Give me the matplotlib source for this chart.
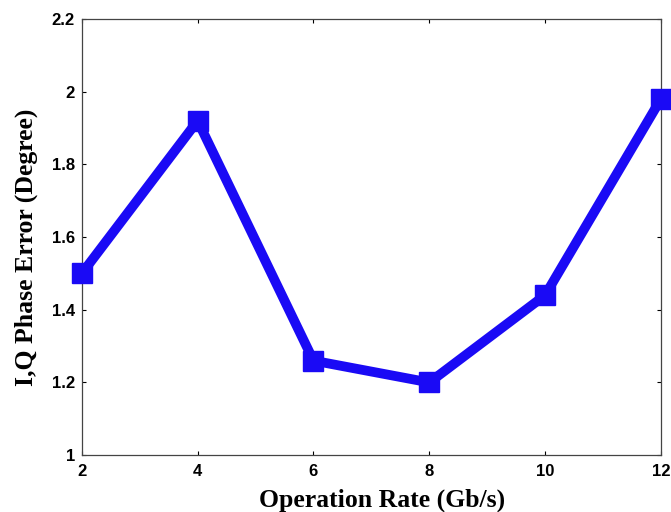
import matplotlib
matplotlib.use('Agg')
import matplotlib.pyplot as plt

# dados
taxa = [2, 4, 6, 8, 10, 12]
erro_fase = [1.50, 1.92, 1.26, 1.20, 1.44, 1.98]

xticks = [2, 4, 6, 8, 10, 12]
yticks = [1, 1.2, 1.4, 1.6, 1.8, 2, 2.2]
ytick_labels = ['1', '1.2', '1.4', '1.6', '1.8', '2', '2.2']

fig = plt.figure(figsize=(6.71, 5.12), dpi=100)
ax = fig.add_axes([0.122, 0.111, 0.863, 0.852])

ax.plot(taxa, erro_fase, color='#1a0af5', linewidth=7, marker='s',
        markersize=14, clip_on=False, zorder=3)

ax.set_xlim(2, 12)
ax.set_ylim(1, 2.2)
ax.set_xticks(xticks)
ax.set_yticks(yticks)
ax.set_yticklabels(ytick_labels)

ax.tick_params(direction='in', length=3, width=0.8, top=True, right=True,
               labelsize=12)
ax.tick_params(axis='x', pad=6)
ax.tick_params(axis='y', pad=5)
for lbl in ax.get_xticklabels() + ax.get_yticklabels():
    lbl.set_fontfamily('Liberation Sans')
    lbl.set_fontweight('bold')

for s in ax.spines.values():
    s.set_linewidth(0.9)
    s.set_color('#444444')

ax.set_xlabel('Operation Rate (Gb/s)', fontfamily='Liberation Serif',
              fontweight='bold', fontsize=18.5, labelpad=7)
ax.set_ylabel('I,Q Phase Error (Degree)', fontfamily='Liberation Serif',
              fontweight='bold', fontsize=18.5, labelpad=10)
ax.xaxis.label.set_x(0.518)
ax.yaxis.label.set_y(0.476)

fig.savefig('out.png', dpi=100)
